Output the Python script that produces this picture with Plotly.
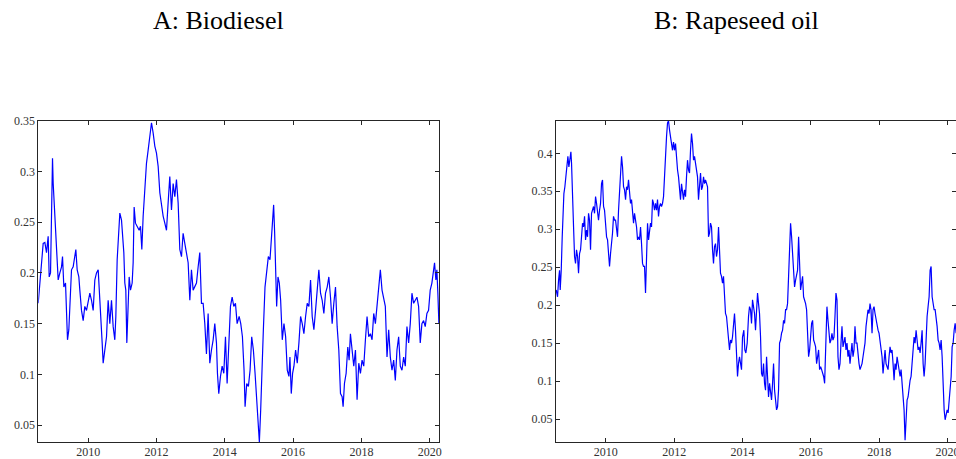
import plotly.graph_objects as go

# ---------------- data ----------------
titles = ["A: Biodiesel", "B: Rapeseed oil"]

bio_years = [
    2008.537, 2008.585, 2008.634, 2008.683, 2008.732, 2008.780, 2008.829, 2008.859, 2008.898, 2008.927,
    2008.956, 2008.976, 2009.024, 2009.054, 2009.093, 2009.122, 2009.171, 2009.220, 2009.249, 2009.288,
    2009.337, 2009.366, 2009.395, 2009.434, 2009.483, 2009.512, 2009.561, 2009.610, 2009.639, 2009.678,
    2009.727, 2009.756, 2009.805, 2009.854, 2009.902, 2009.951, 2010.000, 2010.049, 2010.098, 2010.146,
    2010.195, 2010.244, 2010.293, 2010.341, 2010.371, 2010.410, 2010.439, 2010.488, 2010.537, 2010.585,
    2010.634, 2010.683, 2010.732, 2010.780, 2010.810, 2010.849, 2010.878, 2010.927, 2010.976, 2011.005,
    2011.044, 2011.073, 2011.102, 2011.132, 2011.171, 2011.200, 2011.239, 2011.288, 2011.317, 2011.346,
    2011.385, 2011.434, 2011.493, 2011.532, 2011.571, 2011.610, 2011.659, 2011.707, 2011.756, 2011.805,
    2011.854, 2011.902, 2011.951, 2012.000, 2012.049, 2012.098, 2012.146, 2012.195, 2012.244, 2012.293,
    2012.341, 2012.390, 2012.439, 2012.488, 2012.537, 2012.585, 2012.634, 2012.683, 2012.732, 2012.780,
    2012.829, 2012.878, 2012.927, 2012.976, 2013.024, 2013.073, 2013.122, 2013.171, 2013.220, 2013.268,
    2013.317, 2013.366, 2013.415, 2013.463, 2013.512, 2013.561, 2013.610, 2013.659, 2013.707, 2013.756,
    2013.785, 2013.824, 2013.873, 2013.922, 2013.971, 2014.020, 2014.068, 2014.117, 2014.166, 2014.215,
    2014.263, 2014.312, 2014.361, 2014.420,
    2014.467, 2014.516, 2014.564, 2014.594, 2014.642, 2014.691, 2014.740, 2014.788, 2014.837, 2014.886,
    2014.934, 2014.983, 2015.012, 2015.051, 2015.090, 2015.129, 2015.177, 2015.226, 2015.275, 2015.323,
    2015.362, 2015.401, 2015.430, 2015.460, 2015.489, 2015.518, 2015.557, 2015.596, 2015.635, 2015.683,
    2015.732, 2015.781, 2015.829, 2015.878, 2015.907, 2015.946, 2015.985, 2016.024, 2016.073, 2016.121,
    2016.170, 2016.219, 2016.267, 2016.316, 2016.365, 2016.413, 2016.462, 2016.511, 2016.559, 2016.608,
    2016.657, 2016.705, 2016.754, 2016.803, 2016.851, 2016.900, 2016.949, 2016.998, 2017.046, 2017.095,
    2017.143, 2017.192, 2017.241, 2017.289, 2017.338, 2017.387, 2017.435, 2017.464, 2017.503, 2017.552,
    2017.601, 2017.640, 2017.678, 2017.727, 2017.776, 2017.825, 2017.873, 2017.922, 2017.971, 2018.019,
    2018.068, 2018.117, 2018.165, 2018.214, 2018.263, 2018.311, 2018.360, 2018.409, 2018.457, 2018.506,
    2018.554, 2018.603, 2018.652, 2018.700, 2018.749, 2018.798, 2018.846, 2018.895, 2018.944, 2018.992,
    2019.041, 2019.090, 2019.138, 2019.187, 2019.236, 2019.284, 2019.333, 2019.382, 2019.430, 2019.479,
    2019.528, 2019.576, 2019.625, 2019.674, 2019.722, 2019.771, 2019.820, 2019.868, 2019.917, 2019.966,
    2020.014, 2020.063, 2020.112, 2020.141, 2020.180, 2020.209, 2020.238, 2020.268,
]
bio_values = [
    0.170, 0.190, 0.210, 0.229, 0.230, 0.220, 0.236, 0.196, 0.200, 0.272,
    0.313, 0.288, 0.256, 0.230, 0.203, 0.193, 0.200, 0.206, 0.216, 0.186,
    0.190, 0.157, 0.134, 0.144, 0.176, 0.203, 0.206, 0.216, 0.223, 0.203,
    0.196, 0.183, 0.163, 0.153, 0.167, 0.163, 0.170, 0.180, 0.173, 0.163,
    0.193, 0.200, 0.203, 0.176, 0.163, 0.131, 0.111, 0.124, 0.137, 0.173,
    0.150, 0.173, 0.147, 0.134, 0.157, 0.213, 0.236, 0.259, 0.252, 0.236,
    0.220, 0.190, 0.183, 0.131, 0.176, 0.196, 0.183, 0.190, 0.210, 0.265,
    0.249, 0.246, 0.242, 0.246, 0.223, 0.256, 0.285, 0.308, 0.321, 0.335,
    0.348, 0.338, 0.325, 0.318, 0.305, 0.279, 0.265, 0.256, 0.249, 0.242,
    0.269, 0.295, 0.262, 0.288, 0.275, 0.292, 0.269, 0.223, 0.216, 0.239,
    0.229, 0.220, 0.210, 0.173, 0.203, 0.183, 0.186, 0.190, 0.206, 0.220,
    0.170, 0.170, 0.150, 0.120, 0.160, 0.111, 0.124, 0.134, 0.150, 0.131,
    0.101, 0.081, 0.098, 0.108, 0.101, 0.137, 0.091, 0.137, 0.167, 0.176,
    0.167, 0.170, 0.150, 0.157,
    0.150, 0.137, 0.104, 0.068, 0.091, 0.088, 0.104, 0.137, 0.124, 0.101,
    0.075, 0.052, 0.033, 0.065, 0.117, 0.144, 0.186, 0.200, 0.216, 0.213,
    0.236, 0.249, 0.267, 0.239, 0.206, 0.167, 0.196, 0.190, 0.173, 0.134,
    0.150, 0.137, 0.104, 0.098, 0.117, 0.081, 0.101, 0.108, 0.124, 0.111,
    0.131, 0.157, 0.150, 0.140, 0.157, 0.170, 0.167, 0.193, 0.157, 0.144,
    0.163, 0.183, 0.203, 0.180, 0.173, 0.160, 0.180, 0.186, 0.196, 0.176,
    0.150, 0.170, 0.186, 0.147, 0.124, 0.081, 0.078, 0.068, 0.091, 0.101,
    0.127, 0.114, 0.140, 0.124, 0.108, 0.124, 0.075, 0.111, 0.101, 0.114,
    0.108, 0.134, 0.157, 0.137, 0.140, 0.134, 0.160, 0.150, 0.170, 0.190,
    0.203, 0.183, 0.176, 0.167, 0.117, 0.144, 0.117, 0.104, 0.114, 0.094,
    0.124, 0.137, 0.108, 0.104, 0.117, 0.108, 0.147, 0.131, 0.150, 0.180,
    0.170, 0.173, 0.176, 0.167, 0.131, 0.150, 0.153, 0.147, 0.160, 0.163,
    0.183, 0.190, 0.200, 0.210, 0.193, 0.203, 0.180, 0.150,
]

rape_years = [
    2008.546, 2008.585, 2008.615, 2008.644, 2008.663, 2008.693, 2008.722, 2008.741, 2008.771, 2008.800,
    2008.829, 2008.859, 2008.888, 2008.917, 2008.946, 2008.976, 2008.995, 2009.024, 2009.054, 2009.083,
    2009.112, 2009.141, 2009.171, 2009.200, 2009.229, 2009.259, 2009.288, 2009.317, 2009.346, 2009.376,
    2009.405, 2009.434, 2009.463, 2009.493, 2009.522, 2009.551, 2009.580, 2009.610, 2009.639, 2009.668,
    2009.698, 2009.727, 2009.756, 2009.785, 2009.815, 2009.844, 2009.873, 2009.902, 2009.932, 2009.961,
    2009.990, 2010.020, 2010.049, 2010.078, 2010.107, 2010.137, 2010.166, 2010.195, 2010.224, 2010.254,
    2010.283, 2010.312, 2010.341, 2010.371, 2010.400, 2010.429, 2010.459, 2010.488, 2010.517, 2010.546,
    2010.576, 2010.605, 2010.634, 2010.663, 2010.693, 2010.722, 2010.751, 2010.780, 2010.810, 2010.839,
    2010.868, 2010.898, 2010.927, 2010.956, 2010.985, 2011.015, 2011.044, 2011.073, 2011.102, 2011.132,
    2011.161, 2011.190, 2011.220, 2011.249, 2011.278, 2011.307, 2011.337, 2011.366, 2011.395, 2011.424,
    2011.454, 2011.483, 2011.512, 2011.541, 2011.571, 2011.600, 2011.629, 2011.659, 2011.688, 2011.717,
    2011.746, 2011.776, 2011.805, 2011.834, 2011.863, 2011.893, 2011.922, 2011.951, 2011.980, 2012.010,
    2012.039, 2012.068, 2012.098, 2012.127, 2012.156, 2012.185, 2012.215, 2012.244, 2012.273, 2012.302,
    2012.332, 2012.361, 2012.390, 2012.420, 2012.449, 2012.478, 2012.507, 2012.537, 2012.566, 2012.595,
    2012.624, 2012.654, 2012.683, 2012.712, 2012.741, 2012.771, 2012.800, 2012.829, 2012.859, 2012.888,
    2012.917, 2012.946, 2012.976, 2013.005, 2013.034, 2013.063, 2013.093, 2013.122, 2013.151, 2013.180,
    2013.210, 2013.239, 2013.268, 2013.298, 2013.327, 2013.356, 2013.385, 2013.415, 2013.444, 2013.473,
    2013.502, 2013.532, 2013.561, 2013.590, 2013.620, 2013.649, 2013.678, 2013.707, 2013.737, 2013.766,
    2013.795, 2013.824, 2013.854, 2013.883, 2013.912,
    2013.971, 2014.000, 2014.039, 2014.068, 2014.098, 2014.137, 2014.176, 2014.205, 2014.235, 2014.264,
    2014.293, 2014.322, 2014.352, 2014.381, 2014.410, 2014.440, 2014.469, 2014.498, 2014.528, 2014.557,
    2014.586, 2014.616, 2014.645, 2014.674, 2014.704, 2014.733, 2014.762, 2014.792, 2014.821, 2014.850,
    2014.880, 2014.909, 2014.938, 2014.967, 2014.997, 2015.026, 2015.055, 2015.085, 2015.114, 2015.143,
    2015.173, 2015.202, 2015.231, 2015.261, 2015.290, 2015.319, 2015.349, 2015.378, 2015.407, 2015.437,
    2015.466, 2015.495, 2015.524, 2015.554, 2015.583, 2015.612, 2015.642, 2015.671, 2015.700, 2015.730,
    2015.759, 2015.788, 2015.818, 2015.847, 2015.876, 2015.906, 2015.935, 2015.964, 2015.994, 2016.023,
    2016.052, 2016.082, 2016.111, 2016.140, 2016.169, 2016.199, 2016.228, 2016.257, 2016.287, 2016.316,
    2016.345, 2016.375, 2016.404, 2016.443, 2016.472, 2016.502, 2016.531, 2016.560, 2016.590, 2016.619,
    2016.648, 2016.678, 2016.707, 2016.736, 2016.766, 2016.795, 2016.824, 2016.854, 2016.883, 2016.912,
    2016.942, 2016.971, 2017.000, 2017.029, 2017.059, 2017.088, 2017.117, 2017.147, 2017.176, 2017.205,
    2017.235, 2017.264, 2017.293, 2017.323, 2017.352, 2017.381, 2017.411, 2017.440, 2017.469, 2017.499,
    2017.528, 2017.557, 2017.586, 2017.616, 2017.645, 2017.674, 2017.704, 2017.733, 2017.762, 2017.792,
    2017.821, 2017.850, 2017.880, 2017.909, 2017.938, 2017.968, 2017.997, 2018.026, 2018.056, 2018.085,
    2018.114, 2018.143, 2018.173, 2018.202, 2018.231, 2018.261, 2018.290, 2018.319, 2018.349, 2018.378,
    2018.407, 2018.437, 2018.466, 2018.495, 2018.525, 2018.554, 2018.583, 2018.613, 2018.642, 2018.671,
    2018.701, 2018.730, 2018.759, 2018.789, 2018.818, 2018.847, 2018.876, 2018.906, 2018.935, 2018.964,
    2018.994, 2019.023, 2019.052, 2019.082, 2019.111, 2019.140, 2019.170, 2019.199, 2019.228, 2019.258,
    2019.287, 2019.316, 2019.345, 2019.375, 2019.404, 2019.433, 2019.463, 2019.492, 2019.521, 2019.551,
    2019.580, 2019.609, 2019.639, 2019.668, 2019.697, 2019.727, 2019.756, 2019.785, 2019.815, 2019.844,
    2019.873, 2019.903, 2019.932, 2019.961, 2019.991, 2020.020, 2020.049, 2020.078, 2020.108, 2020.137,
    2020.166, 2020.196, 2020.225, 2020.254, 2020.280,
]
rape_values = [
    0.220, 0.211, 0.233, 0.246, 0.220, 0.246, 0.290, 0.321, 0.347, 0.356,
    0.369, 0.378, 0.396, 0.382, 0.391, 0.402, 0.387, 0.325, 0.303, 0.264,
    0.255, 0.273, 0.264, 0.242, 0.268, 0.273, 0.295, 0.308, 0.303, 0.317,
    0.286, 0.299, 0.290, 0.321, 0.312, 0.273, 0.321, 0.325, 0.330, 0.321,
    0.343, 0.334, 0.325, 0.312, 0.325, 0.334, 0.360, 0.365, 0.330, 0.325,
    0.308, 0.290, 0.286, 0.259, 0.251, 0.268, 0.281, 0.295, 0.317, 0.312,
    0.312, 0.299, 0.290, 0.325, 0.347, 0.369, 0.396, 0.382, 0.356, 0.352,
    0.339, 0.356, 0.352, 0.365, 0.352, 0.334, 0.339, 0.325, 0.308, 0.321,
    0.312, 0.303, 0.286, 0.290, 0.286, 0.303, 0.281, 0.255, 0.251, 0.251,
    0.216, 0.286, 0.308, 0.286, 0.295, 0.308, 0.303, 0.339, 0.334, 0.325,
    0.334, 0.325, 0.339, 0.317, 0.330, 0.334, 0.330, 0.334, 0.343, 0.374,
    0.413, 0.422, 0.440, 0.443, 0.431, 0.422, 0.413, 0.404, 0.415, 0.404,
    0.413, 0.387, 0.378, 0.369, 0.352, 0.339, 0.360, 0.347, 0.339, 0.352,
    0.343, 0.369, 0.391, 0.378, 0.374, 0.404, 0.426, 0.413, 0.391, 0.396,
    0.387, 0.378, 0.369, 0.339, 0.360, 0.374, 0.352, 0.356, 0.369, 0.360,
    0.365, 0.360, 0.356, 0.290, 0.295, 0.308, 0.303, 0.273, 0.255, 0.277,
    0.281, 0.264, 0.273, 0.303, 0.259, 0.242, 0.238, 0.229, 0.238, 0.220,
    0.189, 0.185, 0.172, 0.154, 0.141, 0.154, 0.150, 0.158, 0.176, 0.189,
    0.167, 0.123, 0.106, 0.123, 0.132,
    0.115, 0.158, 0.167, 0.141, 0.137, 0.150, 0.185, 0.198, 0.194, 0.176,
    0.207, 0.198, 0.189, 0.167, 0.198, 0.216, 0.202, 0.189, 0.158, 0.110,
    0.106, 0.123, 0.097, 0.088, 0.132, 0.106, 0.079, 0.097, 0.088, 0.075,
    0.097, 0.123, 0.088, 0.075, 0.062, 0.066, 0.088, 0.150, 0.154, 0.163,
    0.167, 0.180, 0.176, 0.194, 0.194, 0.202, 0.233, 0.259, 0.308, 0.290,
    0.264, 0.238, 0.224, 0.233, 0.242, 0.246, 0.290, 0.246, 0.220, 0.229,
    0.238, 0.211, 0.207, 0.202, 0.194, 0.167, 0.132, 0.141, 0.167, 0.176,
    0.180, 0.154, 0.150, 0.145, 0.123, 0.132, 0.141, 0.115, 0.119, 0.115,
    0.110, 0.106, 0.097, 0.176, 0.198, 0.180, 0.158, 0.150, 0.154, 0.163,
    0.154, 0.158, 0.185, 0.216, 0.207, 0.132, 0.115, 0.123, 0.150, 0.172,
    0.145, 0.150, 0.158, 0.141, 0.150, 0.132, 0.141, 0.123, 0.141, 0.150,
    0.132, 0.141, 0.172, 0.150, 0.150, 0.132, 0.123, 0.115, 0.119, 0.123,
    0.132, 0.141, 0.150, 0.172, 0.185, 0.194, 0.189, 0.202, 0.194, 0.163,
    0.194, 0.198, 0.189, 0.180, 0.176, 0.167, 0.163, 0.154, 0.141, 0.132,
    0.110, 0.123, 0.141, 0.123, 0.119, 0.115, 0.132, 0.145, 0.137, 0.141,
    0.123, 0.101, 0.123, 0.115, 0.132, 0.123, 0.110, 0.106, 0.115, 0.097,
    0.079, 0.062, 0.022, 0.062, 0.075, 0.079, 0.093, 0.101, 0.106, 0.123,
    0.132, 0.158, 0.150, 0.167, 0.154, 0.141, 0.145, 0.137, 0.150, 0.167,
    0.123, 0.106, 0.123, 0.158, 0.185, 0.198, 0.211, 0.246, 0.251, 0.211,
    0.202, 0.194, 0.194, 0.185, 0.172, 0.154, 0.150, 0.141, 0.154, 0.132,
    0.088, 0.062, 0.049, 0.058, 0.062, 0.058, 0.075, 0.093, 0.106, 0.145,
    0.150, 0.167, 0.176, 0.163, 0.175,
]

x_tick_vals = [2010, 2012, 2014, 2016, 2018, 2020]
x_tick_text = ["2010", "2012", "2014", "2016", "2018", "2020"]
bio_y_ticks = [0.05, 0.10, 0.15, 0.20, 0.25, 0.30, 0.35]
bio_y_text = ["0.05", "0.1", "0.15", "0.2", "0.25", "0.3", "0.35"]
rape_y_ticks = [0.05, 0.10, 0.15, 0.20, 0.25, 0.30, 0.35, 0.40]
rape_y_text = ["0.05", "0.1", "0.15", "0.2", "0.25", "0.3", "0.35", "0.4"]

# ---------------- figure ----------------
W, H = 956, 459
LINE = "#0000ff"
AXC = "#262626"
TICKFONT = dict(family="Liberation Serif, Times New Roman, serif", size=12, color="#333333")

fig = go.Figure()
fig.add_trace(go.Scatter(x=bio_years, y=bio_values, mode="lines",
                         line=dict(color=LINE, width=1.2), xaxis="x", yaxis="y",
                         hoverinfo="skip"))
fig.add_trace(go.Scatter(x=rape_years, y=rape_values, mode="lines",
                         line=dict(color=LINE, width=1.2), xaxis="x2", yaxis="y2",
                         hoverinfo="skip"))

ydom = [1 - 442.3 / H, 1 - 120.7 / H]
common = dict(showline=True, linecolor=AXC, linewidth=1, mirror="ticks",
              ticks="inside", ticklen=4, tickwidth=1, tickcolor=AXC,
              showgrid=False, zeroline=False, tickfont=TICKFONT, automargin=False)
xextra = dict(ticklabeloverflow="allow", ticklabelstandoff=-2)

fig.update_layout(
    width=W, height=H,
    margin=dict(l=0, r=0, t=0, b=0),
    paper_bgcolor="white", plot_bgcolor="white",
    showlegend=False,
    xaxis=dict(domain=[38.3 / W, 439.3 / W], range=[2008.54, 2020.28],
               tickvals=x_tick_vals, ticktext=x_tick_text, anchor="y", **common, **xextra),
    yaxis=dict(domain=ydom, range=[0.033, 0.35],
               tickvals=bio_y_ticks, ticktext=bio_y_text, anchor="x", **common),
    xaxis2=dict(domain=[556.0 / W, 1.0], range=[2008.54, 2020.25],
                tickvals=x_tick_vals, ticktext=x_tick_text, anchor="y2", **common, **xextra),
    yaxis2=dict(domain=ydom, range=[0.0193, 0.443],
                tickvals=rape_y_ticks, ticktext=rape_y_text, anchor="x2", **common),
)

title_font = dict(family="Liberation Serif, Times New Roman, serif", size=26, color="black")
for xc, txt in zip([218, 736], titles):
    fig.add_annotation(x=xc / W, y=1 - 21 / H, xref="paper", yref="paper",
                       text=txt, showarrow=False, font=title_font,
                       xanchor="center", yanchor="middle")

# remove the browser's default 8px body margin so the figure fills the window exactly
fig.write_html("out.html",
               config={"displayModeBar": False, "staticPlot": True},
               post_script="document.body.style.margin='0';"
                           "document.body.style.overflow='hidden';")
